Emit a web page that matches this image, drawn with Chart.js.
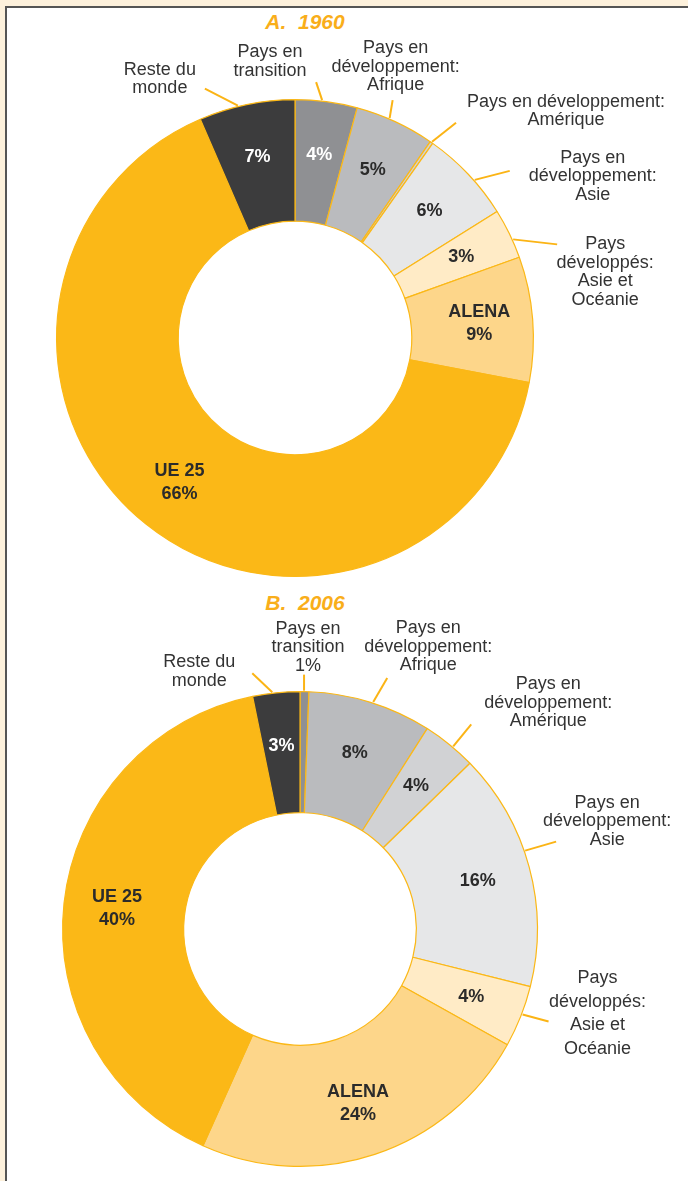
<!DOCTYPE html>
<html><head><meta charset="utf-8">
<script src="https://cdn.jsdelivr.net/npm/chart.js@4.4.1/dist/chart.umd.min.js"></script>
<style>
html,body{margin:0;padding:0;}
body{width:688px;height:1181px;background:#FDF1DC;position:relative;overflow:hidden;}
#frame{position:absolute;left:5px;top:6px;width:720px;height:1220px;background:#fff;border-left:2px solid #555;border-top:2px solid #555;}
.title{position:absolute;width:200px;text-align:center;color:#F9AE1A;font:italic bold 21px 'Liberation Sans',Arial,sans-serif;line-height:24px;white-space:pre;}
canvas{position:absolute;left:0;}
</style></head>
<body>
<div id="frame"></div>
<div class="title" style="left:205px;top:10px;">A.  1960</div>
<div class="title" style="left:205px;top:591px;">B.  2006</div>
<canvas id="cA" width="688" height="590" style="top:0"></canvas>
<canvas id="cB" width="688" height="591" style="top:590px"></canvas>
<script>
// ---- data ----
const categories = ['Pays en transition','Pays en développement: Afrique','Pays en développement: Amérique','Pays en développement: Asie','Pays développés: Asie et Océanie','ALENA','UE 25','Reste du monde'];
const values1960 = [4.2, 5.4, 0.2, 6.3, 3.4, 8.5, 65.5, 6.5];
const values2006 = [0.6, 8.4, 3.7, 16.2, 4.2, 23.6, 40.1, 3.2];
const outerLines1960 = [['Pays en','transition'],['Pays en','développement:','Afrique'],['Pays en développement:','Amérique'],['Pays en','développement:','Asie'],['Pays','développés:','Asie et','Océanie'],null,null,['Reste du','monde']];
const outerLines2006 = [['Pays en','transition'],['Pays en','développement:','Afrique'],['Pays en','développement:','Amérique'],['Pays en','développement:','Asie'],['Pays','développés:','Asie et','Océanie'],null,null,['Reste du','monde']];
const innerName = [false,false,false,false,false,true,true,false];
const pctOutside2006 = [true,false,false,false,false,false,false,false];
const pctOutside1960 = [false,false,false,false,false,false,false,false];

// ---- style / layout ----
const colors = ['#8F9093','#BABBBE','#D1D2D4','#E6E7E8','#FFEBC6','#FDD68A','#FBB817','#3C3C3D'];
const textOnColor = ['#ffffff','#2b2b2b','#2b2b2b','#2b2b2b','#2b2b2b','#2b2b2b','#2b2b2b','#ffffff'];
const leaderA = [
 {frac:0.43, dx:-6, dy:-18, tx:-46, ty:-30, lh:18.5},
 {frac:0.42, dx:3, dy:-18, tx:3, ty:-52, lh:18.5},
 {frac:0.5, dx:24, dy:-19, tx:110, ty:-21, lh:18.5},
 {frac:0.59, dx:35, dy:-9, tx:83, ty:-13, lh:18.5},
 {frac:0.63, dx:44, dy:5, tx:48, ty:0, lh:18.5},
 null, null,
 {frac:0.41, dx:-33, dy:-17, tx:-45, ty:-18, lh:18}
];
const leaderB = [
 {frac:0.45, dx:0, dy:-16, tx:4, ty:-46, lh:18.5},
 {frac:0.52, dx:14, dy:-24, tx:41, ty:-50, lh:18.5},
 {frac:0.57, dx:18, dy:-22, tx:77, ty:-40, lh:18.5},
 {frac:0.43, dx:31, dy:-9, tx:51, ty:-39, lh:18.5},
 {frac:0.46, dx:26, dy:7, tx:49, ty:-43, lh:23.5},
 null, null,
 {frac:0.42, dx:-20, dy:-19, tx:-53, ty:-11, lh:18.5}
];

const labelPlugin = {
  id:'labels',
  afterDatasetsDraw(chart, args, opts){
    const ctx = chart.ctx;
    const meta = chart.getDatasetMeta(0);
    const vals = chart.data.datasets[0].data;
    ctx.save();
    meta.data.forEach((arc, i) => {
      const {x, y, startAngle, endAngle, innerRadius, outerRadius} = arc;
      const pct = Math.round(vals[i]) + '%';
      if (vals[i] >= 0.5 && !opts.pctOutside[i]) {
        const mid = (startAngle + endAngle) / 2;
        const r = innerRadius + 0.56 * (outerRadius - innerRadius);
        const lx = x + r * Math.cos(mid), ly = y + r * Math.sin(mid);
        ctx.fillStyle = textOnColor[i];
        ctx.font = "bold 18px 'Liberation Sans', Arial, sans-serif";
        ctx.textAlign = 'center'; ctx.textBaseline = 'middle';
        if (innerName[i]) {
          ctx.fillText(chart.data.labels[i], lx, ly - 11.5);
          ctx.fillText(pct, lx, ly + 11.5);
        } else {
          ctx.fillText(pct, lx, ly);
        }
      }
      const L = opts.leaders[i];
      const lines = opts.outerLines[i];
      if (L && lines) {
        const a = startAngle + L.frac * (endAngle - startAngle);
        const sx = x + (outerRadius + 1) * Math.cos(a), sy = y + (outerRadius + 1) * Math.sin(a);
        const ex = sx + L.dx, ey = sy + L.dy;
        ctx.strokeStyle = '#FBB415'; ctx.lineWidth = 2; ctx.lineCap = 'butt';
        ctx.beginPath(); ctx.moveTo(sx, sy); ctx.lineTo(ex, ey); ctx.stroke();
        const all = opts.pctOutside[i] ? lines.concat([pct]) : lines;
        ctx.fillStyle = '#333333';
        ctx.font = "18px 'Liberation Sans', Arial, sans-serif";
        ctx.textAlign = 'center'; ctx.textBaseline = 'middle';
        all.forEach((t, k) => ctx.fillText(t, ex + L.tx, ey + L.ty + k * L.lh));
      }
    });
    ctx.restore();
  }
};

function makeChart(id, values, padding, leaders, outerLines, pctOutside){
  return new Chart(document.getElementById(id), {
    type:'doughnut',
    data:{labels:categories, datasets:[{data:values, backgroundColor:colors, borderColor:'#FBB817', borderWidth:1.2}]},
    options:{
      responsive:false, animation:false, cutout:'49%',
      layout:{padding:padding},
      plugins:{legend:{display:false}, tooltip:{enabled:false}, title:{display:false},
        labels:{leaders:leaders, outerLines:outerLines, pctOutside:pctOutside}}
    },
    plugins:[labelPlugin]
  });
}
makeChart('cA', values1960, {left:56, top:99, right:154, bottom:13}, leaderA, outerLines1960, pctOutside1960);
makeChart('cB', values2006, {left:62, top:101, right:150, bottom:14}, leaderB, outerLines2006, pctOutside2006);
</script>
</body></html>
